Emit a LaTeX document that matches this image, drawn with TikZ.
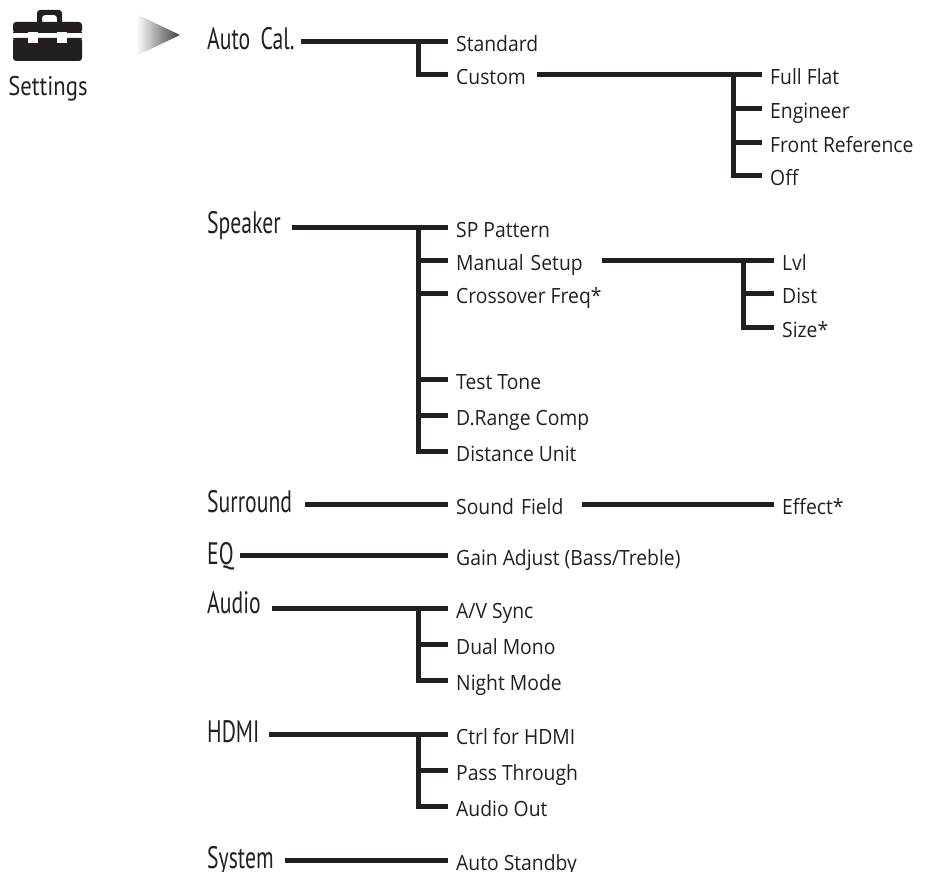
\documentclass[tikz,border=0pt]{standalone}
\usepackage{fontspec}
\setmainfont{Open Sans}
\newfontfamily\topfont[FakeStretch=0.7]{PT Sans}
\newfontfamily\setfont[FakeStretch=0.84]{PT Sans}
\newfontfamily\itemfont[FakeStretch=0.92]{Open Sans}
\definecolor{ink}{HTML}{231F20}
\tikzset{
  topitem/.style={anchor=west,inner xsep=0pt,inner ysep=0pt,text=ink,font=\topfont\fontsize{31}{31}\selectfont,text height=24pt,text depth=8pt,align=left},
  leaf/.style={anchor=west,inner xsep=0pt,inner ysep=0pt,text=ink,font=\itemfont\fontsize{21}{21}\selectfont,text height=24pt,text depth=4pt,align=left},
  wire/.style={draw=ink,line width=5pt,line join=miter},
  gapstart/.style={shorten >=8pt},
}
\begin{document}
\begin{tikzpicture}[x=1pt,y=-1pt]
\useasboundingbox (0,0) rectangle (939,872);
% arrow
\shade[left color=white,right color=black!75,draw=none] (136,14) -- (180,35) -- (136,56) -- cycle;
% toolbox
\fill[ink,even odd rule,rounded corners=3pt] (37,26) -- (37,10) -- (62,10) -- (62,26) -- cycle (42,26) -- (42,15) -- (57,15) -- (57,26) -- cycle;
\fill[ink,rounded corners=3pt] (13,33) -- (13,22) -- (82,22) -- (82,33) -- cycle;
\fill[ink,rounded corners=3pt] (13,38) -- (82,38) -- (82,61) -- (13,61) -- cycle;
\fill[ink] (13,32) rectangle (82,33);
\fill[ink] (13,38) rectangle (82,39);
\fill[white] (28,32) rectangle (38,43);
\fill[white] (57,32) rectangle (67,43);
\node[anchor=base,inner sep=0pt,text=ink,font=\setfont\fontsize{27}{27}\selectfont] (settings) at (48,96) {Settings};

% top level
\node[topitem,text width=94pt,text height=24pt,text depth=8pt] (auto) at (207,42) {Auto Cal.};
\node[topitem,text width=85pt,text height=24pt,text depth=12pt] (speaker) at (207,227) {Speaker};
\node[topitem,text width=98pt] (surround) at (207,504) {Surround};
\node[topitem,text width=33pt,text height=24pt,text depth=6pt] (eq) at (207,555) {EQ};
\node[topitem,text width=65pt,text height=24pt,text depth=14pt] (audio) at (207,608) {Audio};
\node[topitem,text width=62pt] (hdmi) at (207,734) {HDMI};
\node[topitem,text width=78pt] (system) at (207,860) {System};

% second level
\node[leaf] (standard) at (456,42) {Standard};
\node[leaf,text width=81pt] (custom) at (456,75) {Custom};
\node[leaf] (sppattern) at (456,227) {SP Pattern};
\node[leaf,text width=146pt] (manual) at (456,260) {Manual Setup};
\node[leaf] (crossover) at (456,293) {Crossover Freq*};
\node[leaf] (testtone) at (456,379) {Test Tone};
\node[leaf] (drange) at (456,415) {D.Range Comp};
\node[leaf] (distance) at (456,451) {Distance Unit};
\node[leaf,text width=126pt] (soundfield) at (456,504) {Sound Field};
\node[leaf] (gain) at (456,555) {Gain Adjust (Bass/Treble)};
\node[leaf] (avsync) at (456,608) {A/V Sync};
\node[leaf] (dualmono) at (456,644) {Dual Mono};
\node[leaf] (night) at (456,680) {Night Mode};
\node[leaf] (ctrl) at (456,734) {Ctrl for HDMI};
\node[leaf] (pass) at (456,770) {Pass Through};
\node[leaf] (audioout) at (456,806) {Audio Out};
\node[leaf] (standby) at (456,860) {Auto Standby};

% third level
\node[leaf] (fullflat) at (770,75) {Full Flat};
\node[leaf] (engineer) at (770,109) {Engineer};
\node[leaf] (frontref) at (770,142) {Front Reference};
\node[leaf] (off) at (770,175) {Off};
\node[leaf] (lvl) at (782,260) {Lvl};
\node[leaf] (dist) at (782,293) {Dist};
\node[leaf] (size) at (782,327) {Size*};
\node[leaf] (effect) at (782,504) {Effect*};

% junctions
\coordinate (ja) at (418,0);
\coordinate (jb) at (733,0);
\coordinate (jc) at (743,0);
\draw[wire,gapstart] (auto.east) -- (standard.west);
\draw[wire,gapstart] (ja |- standard.west) -- (ja |- custom.west) -- (custom.west);
\draw[wire,gapstart] (custom.east) -- (fullflat.west);
\draw[wire,gapstart] (jb |- engineer.west) -- (engineer.west);
\draw[wire,gapstart] (jb |- frontref.west) -- (frontref.west);
\draw[wire,gapstart] (jb |- fullflat.west) -- (jb |- off.west) -- (off.west);
\draw[wire,gapstart] (speaker.east) -- (sppattern.west);
\draw[wire,gapstart] (ja |- sppattern.west) -- (ja |- distance.west) -- (distance.west);
\draw[wire,gapstart] (ja |- manual.west) -- (manual.west);
\draw[wire,gapstart] (ja |- crossover.west) -- (crossover.west);
\draw[wire,gapstart] (ja |- testtone.west) -- (testtone.west);
\draw[wire,gapstart] (ja |- drange.west) -- (drange.west);
\draw[wire,gapstart] (manual.east) -- (lvl.west);
\draw[wire,gapstart] (jc |- lvl.west) -- (jc |- size.west) -- (size.west);
\draw[wire,gapstart] (jc |- dist.west) -- (dist.west);
\draw[wire,gapstart] (surround.east) -- (soundfield.west);
\draw[wire,gapstart] (soundfield.east) -- (effect.west);
\draw[wire,gapstart] (eq.east) -- (gain.west);
\draw[wire,gapstart] (audio.east) -- (avsync.west);
\draw[wire,gapstart] (ja |- avsync.west) -- (ja |- night.west) -- (night.west);
\draw[wire,gapstart] (ja |- dualmono.west) -- (dualmono.west);
\draw[wire,gapstart] (hdmi.east) -- (ctrl.west);
\draw[wire,gapstart] (ja |- ctrl.west) -- (ja |- audioout.west) -- (audioout.west);
\draw[wire,gapstart] (ja |- pass.west) -- (pass.west);
\draw[wire,gapstart] (system.east) -- (standby.west);
\end{tikzpicture}
\end{document}
